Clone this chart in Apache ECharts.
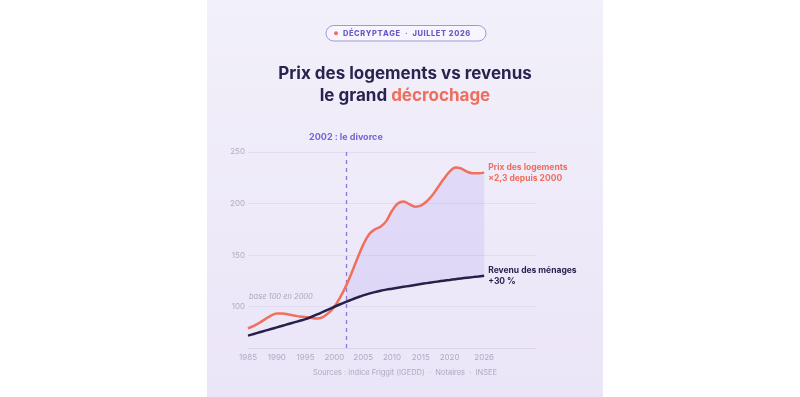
<!DOCTYPE html>
<html>
<head>
<meta charset="utf-8">
<script src="https://cdn.jsdelivr.net/npm/echarts@6/dist/echarts.min.js"></script>
<style>
  html, body { margin: 0; padding: 0; background: #ffffff; }
  #chart { width: 800px; height: 397px; }
</style>
</head>
<body>
<div id="chart"></div>
<script>
// années de l'axe (l'axe va un peu au-delà de 2026)
const years = [];
for (let y = 1985; y <= 2035; y++) years.push(String(y));

// indice base 100 en 2000, 1985 -> 2026
const prixLogements = [
  79, 81.5, 84.5, 88, 91.5, 93.5, 93.5, 92.5, 91.5, 90.5,
  90, 89, 88.5, 90, 94, 100, 109, 120, 133, 147,
  160, 170, 175, 177.5, 183, 193, 200, 202, 199.5, 197,
  198, 202, 208, 216, 224, 231, 235, 234, 231, 229.5,
  229.5, 230
];
const revenuMenages = [
  72, 73.6, 75.2, 76.8, 78.4, 80, 81.6, 83.2, 84.8, 86.4,
  88, 90.2, 92.5, 95, 97.5, 100, 102.4, 104.7, 106.9, 109,
  111, 112.7, 114.2, 115.5, 116.6, 117.5, 118.4, 119.3, 120.2, 121.1,
  122, 122.9, 123.7, 124.5, 125.3, 126, 126.7, 127.4, 128.1, 128.7,
  129.3, 130
];
const yTicks = [100, 150, 200, 250];
const xLabelsShown = ['1985', '1990', '1995', '2000', '2005', '2010', '2015', '2020', '2026'];
const anneeDivorce = '2002';

// zone entre les deux courbes à partir de 2002
const iDebut = years.indexOf(anneeDivorce);
const baseZone = revenuMenages.map((v, i) => (i >= iDebut ? v : '-'));
const ecartZone = prixLogements.map((v, i) => (i >= iDebut ? v - revenuMenages[i] : '-'));

const FONT = 'Inter, "Noto Sans", sans-serif';
const espacer = s => s.split('').join('\u200A');

const chart = echarts.init(document.getElementById('chart'));

const option = {
  animation: false,
  textStyle: { fontFamily: FONT },
  grid: { left: 248, right: 264, top: 152, bottom: 49 },
  graphic: [
    {
      type: 'rect', z: -10, silent: true,
      shape: { x: 207, y: 0, width: 396, height: 397 },
      style: {
        fill: new echarts.graphic.LinearGradient(0, 0, 0, 1, [
          { offset: 0, color: '#f2f0fa' },
          { offset: 1, color: '#ebe5f8' }
        ])
      }
    },
    {
      type: 'rect', silent: true,
      shape: { x: 326, y: 25.5, width: 160, height: 15.5, r: 8 },
      style: { fill: '#f7f5fd', stroke: '#a396d8', lineWidth: 1 }
    },
    {
      type: 'circle', silent: true,
      shape: { cx: 336, cy: 33.3, r: 2 },
      style: { fill: '#f0705e' }
    },
    {
      type: 'text', silent: true, x: 343, y: 33.5,
      style: {
        text: espacer('DÉCRYPTAGE') + '   ·   ' + espacer('JUILLET 2026'),
        verticalAlign: 'middle',
        fill: '#6c58c8', font: '800 7.5px ' + FONT
      }
    },
    {
      type: 'text', silent: true, x: 405, y: 74,
      style: {
        text: 'Prix des logements vs revenus', align: 'center', verticalAlign: 'middle',
        fill: '#29244f', font: 'bold 17px ' + FONT
      }
    },
    {
      type: 'text', silent: true, x: 405, y: 96,
      style: {
        text: '{n|le grand }{c|décrochage}', align: 'center', verticalAlign: 'middle',
        rich: {
          n: { fill: '#29244f', font: 'bold 17px ' + FONT },
          c: { fill: '#ef6d5b', font: 'bold 17px ' + FONT }
        }
      }
    },
    {
      type: 'text', silent: true, x: 249, y: 297,
      style: {
        text: 'base 100 en 2000', verticalAlign: 'middle',
        fill: '#aaa5bf', font: 'italic 7.5px ' + FONT
      }
    },
    {
      type: 'text', silent: true, x: 405, y: 373,
      style: {
        text: 'Sources : indice Friggit (IGEDD)  ·  Notaires  ·  INSEE', align: 'center', verticalAlign: 'middle',
        fill: '#aea9c2', font: '7.5px ' + FONT
      }
    }
  ],
  xAxis: {
    type: 'category',
    data: years,
    boundaryGap: false,
    axisLine: { lineStyle: { color: '#dcd6ec', width: 1 } },
    axisTick: { show: false },
    axisLabel: {
      color: '#b0abc4', fontSize: 8, margin: 6,
      interval: (idx, val) => xLabelsShown.indexOf(val) >= 0
    },
    splitLine: { show: false }
  },
  yAxis: {
    type: 'value',
    min: 60, max: 250,
    axisLine: { show: false },
    axisTick: { show: false, customValues: yTicks },
    axisLabel: { color: '#b0abc4', fontSize: 8, margin: 3, customValues: yTicks },
    splitLine: { lineStyle: { color: '#e1dcef', width: 1 } }
  },
  series: [
    {
      name: 'base', type: 'line', stack: 'zone', data: baseZone,
      smooth: 0.35, symbol: 'none', silent: true,
      lineStyle: { opacity: 0 }
    },
    {
      name: 'écart', type: 'line', stack: 'zone', data: ecartZone,
      smooth: 0.35, symbol: 'none', silent: true,
      lineStyle: { opacity: 0 },
      areaStyle: { color: 'rgba(150, 125, 235, 0.22)' }
    },
    {
      name: 'Prix des logements', type: 'line', data: prixLogements,
      smooth: 0.35, symbol: 'none', z: 5,
      lineStyle: { color: '#f0705e', width: 2.5 },
      endLabel: {
        show: true, distance: 4,
        formatter: 'Prix des logements\n×2,3 depuis 2000',
        color: '#ef6d5b', fontWeight: 'bold', fontSize: 8.5, lineHeight: 11
      },
      markLine: {
        silent: true, symbol: 'none',
        lineStyle: { color: '#8c78d6', type: [4, 4], width: 1.3 },
        label: {
          position: 'end', formatter: '2002 : le divorce',
          color: '#7a5fd6', fontWeight: 'bold', fontSize: 9, distance: 10
        },
        data: [{ xAxis: anneeDivorce }]
      }
    },
    {
      name: 'Revenu des ménages', type: 'line', data: revenuMenages,
      smooth: 0.35, symbol: 'none', z: 6,
      lineStyle: { color: '#27214a', width: 2.5 },
      endLabel: {
        show: true, distance: 4,
        formatter: 'Revenu des ménages\n+30 %',
        color: '#2a2450', fontWeight: 'bold', fontSize: 8.5, lineHeight: 11
      }
    }
  ]
};

chart.setOption(option);
</script>
</body>
</html>
